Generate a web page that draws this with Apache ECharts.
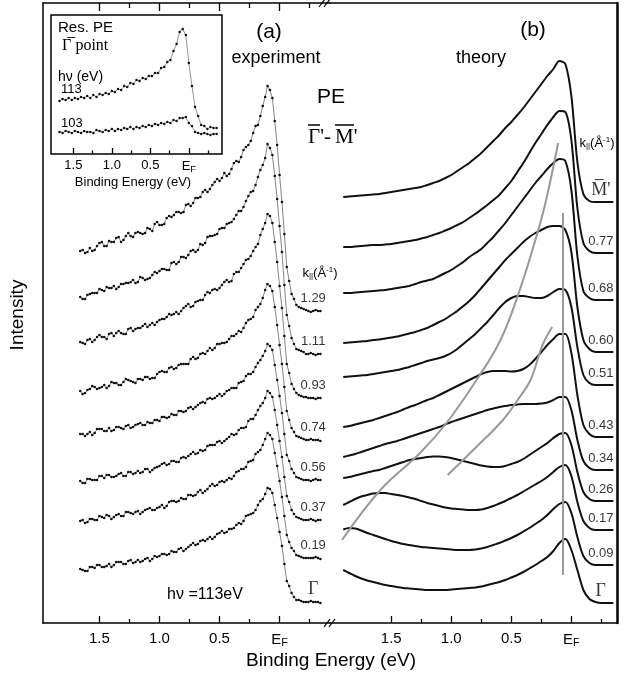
<!DOCTYPE html>
<html>
<head>
<meta charset="utf-8">
<script src="https://cdn.jsdelivr.net/npm/echarts@6/dist/echarts.min.js"></script>
<style>
html, body { margin: 0; padding: 0; background: #fff; }
#chart { width: 630px; height: 677px; }
</style>
</head>
<body>
<div id="chart"></div>
<script>
// binding energy sampling (eV)
const expEnergy = [1.66, 1.64, 1.62, 1.60, 1.58, 1.56, 1.54, 1.52, 1.50, 1.48, 1.46, 1.44, 1.42, 1.40, 1.38, 1.36, 1.34, 1.32, 1.30, 1.28, 1.26, 1.24, 1.22, 1.20, 1.18, 1.16, 1.14, 1.12, 1.10, 1.08, 1.06, 1.04, 1.02, 1.00, 0.98, 0.96, 0.94, 0.92, 0.90, 0.88, 0.86, 0.84, 0.82, 0.80, 0.78, 0.76, 0.74, 0.72, 0.70, 0.68, 0.66, 0.64, 0.62, 0.60, 0.58, 0.56, 0.54, 0.52, 0.50, 0.48, 0.46, 0.44, 0.42, 0.40, 0.38, 0.36, 0.34, 0.32, 0.30, 0.28, 0.26, 0.24, 0.22, 0.20, 0.18, 0.16, 0.14, 0.12, 0.10, 0.08, 0.06, 0.04, 0.02, 0.00, -0.02, -0.04, -0.06, -0.08, -0.10, -0.12, -0.14, -0.16, -0.18, -0.20, -0.22, -0.24, -0.26, -0.28, -0.30, -0.32, -0.34];
const theoryEnergy = [1.90, 1.85, 1.80, 1.75, 1.70, 1.65, 1.60, 1.55, 1.50, 1.45, 1.40, 1.35, 1.30, 1.25, 1.20, 1.15, 1.10, 1.05, 1.00, 0.95, 0.90, 0.85, 0.80, 0.75, 0.70, 0.65, 0.60, 0.55, 0.50, 0.45, 0.40, 0.35, 0.30, 0.25, 0.20, 0.15, 0.10, 0.05, 0.00, -0.05, -0.10, -0.15, -0.20, -0.25, -0.30, -0.35];
const insetEnergy = [1.68, 1.64, 1.60, 1.56, 1.52, 1.48, 1.44, 1.40, 1.36, 1.32, 1.28, 1.24, 1.20, 1.16, 1.12, 1.08, 1.04, 1.00, 0.96, 0.92, 0.88, 0.84, 0.80, 0.76, 0.72, 0.68, 0.64, 0.60, 0.56, 0.52, 0.48, 0.44, 0.40, 0.36, 0.32, 0.28, 0.24, 0.20, 0.16, 0.12, 0.08, 0.04, 0.00, -0.04, -0.08, -0.12, -0.16, -0.20, -0.24, -0.28, -0.32, -0.36];

// tick labels
const majorTicks = [0, 0.5, 1.0, 1.5];
const minorTicks = [-0.25, 0.25, 0.75, 1.25];

// (a) experiment: k labels, waterfall offsets, spectra (top to bottom)
const expLabels = ['1.29', '1.11', '0.93', '0.74', '0.56', '0.37', '0.19', 'Γ'];
const expOffsets = [312, 269, 225, 183, 143, 103, 65, 21];
const exp129 = [60, 61, 58, 59, 63, 60, 61, 65, 68, 69, 65, 65, 70, 69, 69, 73, 74, 69, 71, 75, 78, 75, 74, 78, 79, 78, 77, 78, 83, 82, 80, 87, 89, 86, 86, 87, 93, 95, 94, 96, 99, 99, 98, 99, 106, 107, 105, 108, 113, 113, 114, 119, 121, 119, 122, 126, 129, 132, 130, 133, 138, 135, 137, 142, 148, 150, 149, 154, 161, 164, 166, 170, 178, 185, 186, 195, 205, 214, 225, 221, 213, 190, 166, 136, 109, 77, 44, 30, 17, 12, 6, 4, 3, 2, 1, 0, -1, 0, 1, 0, 0];
const exp111 = [57, 55, 55, 59, 60, 61, 61, 61, 65, 64, 63, 67, 66, 66, 68, 65, 67, 70, 70, 71, 71, 72, 74, 71, 72, 77, 76, 74, 75, 76, 79, 82, 81, 83, 85, 85, 84, 84, 91, 92, 90, 92, 97, 97, 96, 99, 103, 104, 102, 104, 110, 109, 111, 117, 118, 118, 119, 120, 125, 126, 126, 130, 131, 132, 135, 139, 143, 143, 147, 153, 158, 162, 163, 169, 177, 184, 189, 196, 210, 206, 199, 178, 155, 128, 102, 69, 39, 28, 16, 10, 5, 4, 3, 2, 0, 0, 1, 0, -1, 0, 0];
const exp093 = [56, 55, 54, 58, 59, 56, 58, 61, 63, 61, 61, 59, 64, 65, 62, 65, 67, 65, 64, 64, 69, 70, 67, 69, 70, 70, 72, 74, 71, 73, 75, 73, 76, 78, 79, 79, 81, 84, 83, 84, 86, 84, 87, 90, 92, 94, 91, 92, 96, 97, 98, 98, 103, 106, 105, 108, 109, 108, 110, 113, 116, 118, 116, 117, 124, 126, 126, 130, 134, 138, 139, 142, 147, 151, 154, 163, 169, 175, 184, 182, 175, 156, 136, 112, 90, 62, 34, 25, 14, 9, 5, 3, 2, 1, 1, 0, 0, 0, -1, 0, 0];
const exp074 = [49, 46, 47, 50, 51, 54, 53, 51, 52, 53, 55, 52, 54, 58, 57, 57, 55, 55, 58, 61, 60, 59, 58, 57, 61, 61, 60, 63, 63, 61, 62, 62, 66, 68, 69, 68, 68, 72, 73, 71, 72, 75, 76, 76, 76, 76, 81, 83, 81, 82, 86, 87, 86, 89, 92, 90, 92, 96, 96, 97, 97, 98, 101, 104, 104, 106, 109, 108, 112, 117, 120, 121, 123, 130, 133, 136, 142, 150, 156, 154, 149, 133, 115, 95, 76, 53, 29, 20, 12, 8, 4, 3, 2, 1, 0, 0, 1, 0, 0, 0, -1];
const exp056 = [46, 46, 44, 46, 48, 45, 47, 51, 51, 51, 49, 49, 52, 49, 50, 53, 53, 52, 51, 54, 55, 52, 53, 55, 56, 57, 55, 55, 58, 57, 57, 60, 60, 59, 63, 63, 62, 63, 66, 65, 65, 69, 69, 68, 69, 72, 73, 71, 73, 75, 77, 78, 77, 81, 82, 81, 82, 84, 86, 84, 86, 89, 90, 92, 92, 92, 97, 98, 99, 104, 106, 106, 108, 113, 117, 120, 124, 129, 136, 134, 130, 115, 100, 84, 67, 46, 25, 19, 11, 7, 3, 2, 1, 0, 0, 0, -1, 0, 1, 0, 0];
const exp037 = [39, 37, 37, 41, 41, 40, 40, 40, 44, 44, 42, 45, 45, 43, 43, 44, 46, 47, 44, 44, 48, 48, 46, 47, 49, 47, 48, 51, 51, 48, 50, 52, 53, 54, 56, 57, 55, 56, 59, 59, 58, 58, 62, 63, 62, 64, 66, 68, 66, 67, 70, 69, 70, 74, 75, 75, 75, 78, 79, 77, 79, 81, 83, 86, 85, 86, 90, 92, 92, 93, 99, 101, 101, 105, 110, 114, 117, 122, 129, 127, 123, 110, 95, 79, 63, 43, 24, 18, 10, 6, 3, 2, 1, 0, 0, 0, 1, 0, -1, 0, 0];
const exp019 = [37, 38, 35, 36, 39, 39, 38, 38, 42, 41, 40, 43, 42, 39, 41, 43, 44, 42, 42, 46, 46, 45, 44, 46, 47, 44, 46, 48, 49, 50, 48, 48, 50, 51, 53, 50, 52, 56, 57, 57, 56, 57, 60, 59, 59, 63, 63, 62, 63, 66, 68, 65, 67, 69, 72, 74, 72, 73, 76, 77, 76, 78, 80, 79, 82, 86, 87, 89, 89, 91, 96, 97, 98, 104, 106, 108, 113, 119, 125, 123, 119, 105, 92, 77, 61, 42, 23, 16, 10, 7, 3, 2, 1, 0, 0, 0, 0, 0, 1, 0, -1];
const expGamma = [33, 32, 31, 31, 35, 35, 34, 37, 37, 35, 35, 36, 38, 35, 37, 40, 40, 40, 38, 38, 41, 42, 39, 40, 42, 40, 41, 43, 44, 41, 43, 46, 45, 46, 48, 48, 47, 48, 51, 50, 50, 53, 54, 51, 53, 55, 57, 59, 57, 58, 61, 62, 61, 63, 65, 63, 65, 68, 69, 71, 69, 70, 73, 73, 74, 77, 79, 78, 81, 86, 87, 88, 89, 92, 97, 101, 103, 108, 114, 113, 109, 97, 84, 70, 56, 38, 21, 16, 9, 5, 2, 2, 1, 0, 0, 0, 1, 0, 0, 0, -1];
const expSpectra = [exp129, exp111, exp093, exp074, exp056, exp037, exp019, expGamma];

// (b) theory
const theoryLabels = ["M\u0305'", '0.77', '0.68', '0.60', '0.51', '0.43', '0.34', '0.26', '0.17', '0.09', 'Γ'];
const theoryOffsets = [421, 370, 323, 271, 238, 186, 153, 122, 93, 58, 20];
const thM = [5, 5.5, 6, 6.5, 7, 7.5, 8, 9, 10, 11, 12, 13, 14, 15, 17, 19, 21, 24, 27, 31, 35, 39, 44, 49, 55, 61, 67, 74, 80, 87, 94, 102, 110, 118, 126, 133, 141, 138, 106, 40, 8, 1, 0, 0, 0, 0];
const th077 = [6, 6, 6.5, 7, 7.5, 8, 8, 8.5, 9, 10, 11, 12, 13, 14.5, 16, 18, 20, 22.5, 25, 28, 31, 35, 39, 43.5, 48, 53, 58, 65, 72, 81, 90, 100, 110, 119, 128, 136, 142, 141, 113, 45, 10, 2, 0, 0, 0, 0];
const th068 = [7, 7, 7.5, 8, 8.5, 9, 9.5, 10, 11, 12, 13, 14, 16, 18, 19.5, 21, 24, 27, 30, 34, 38, 43, 47, 51, 57, 63, 70, 77, 85, 93, 101, 109, 117, 124, 131, 137, 141, 139, 110, 44, 9, 2, 0, 0, 0, 0];
const th060 = [9, 9.5, 10, 10.5, 11, 12, 12.5, 13.5, 14.5, 15.5, 17, 18.5, 20, 22, 24, 27, 30, 33, 37, 41, 46, 51, 57, 64, 71, 78, 85, 92, 98, 104, 110, 115, 119, 122, 125, 126, 126, 122, 100, 45, 12, 3, 0, 0, 0, 0];
const th051 = [8, 8.5, 9, 9.5, 10, 11, 12, 13, 14, 15, 16.5, 18, 20, 22, 24, 25.5, 27, 29, 32, 36, 41, 46, 51, 57, 63, 70, 77, 83, 87, 89, 89, 88, 87, 87, 89, 93, 96, 95, 78, 38, 10, 2, 0, 0, 0, 0];
const th043 = [10, 11, 12.5, 14, 15.5, 17, 19, 21, 23, 25, 27.5, 30, 32, 34.5, 37, 39, 42, 45, 48, 51, 54, 57, 60, 63, 65, 66, 66, 66, 65.5, 66, 68, 72, 78, 85, 92, 98, 103, 103, 84, 42, 12, 3, 0, 0, 0, 0];
const th034 = [13, 14.5, 16, 18, 20, 22, 24, 26, 27.5, 29, 31, 33, 35, 37, 39, 41, 43, 45.5, 48, 50, 52, 54, 56, 58, 60, 61.5, 63, 64, 65, 65.5, 66, 66, 66, 66.5, 67.5, 70, 73, 73, 60, 30, 9, 2, 0, 0, 0, 0];
const th026 = [23, 24, 25.5, 27, 28.5, 30, 31, 33, 35, 37, 39, 41, 42, 43, 44, 44.5, 44.5, 44, 43, 41.5, 40, 38.5, 37, 35.5, 34.5, 34, 34, 35, 37, 39, 42, 46, 50, 54, 58, 63, 67, 68, 56, 29, 9, 2, 0, 0, 0, 0];
const th017 = [25, 28, 31, 33.5, 35, 36.5, 37, 37, 36, 35, 34, 32.5, 31, 29, 27, 25.5, 24, 22.5, 21.5, 21, 20.5, 20, 20, 20.5, 22, 24, 26.5, 29, 32, 35, 38.5, 42, 45.5, 49, 53, 58, 63, 65, 54, 28, 9, 2, 0, 0, 0, 0];
const th009 = [35.5, 37, 36.5, 34.5, 32, 30, 28, 26, 24, 22.5, 21, 20, 19, 18, 17.5, 17, 16.5, 16, 15.5, 15, 15, 15, 15.5, 16.5, 18, 20, 22, 24.5, 27, 30, 33.5, 37, 41, 45, 50, 56, 61, 63, 52, 28, 9, 2, 0, 0, 0, 0];
const thGamma = [33, 30, 27, 24.5, 22.5, 21, 19.5, 18, 17, 16, 15, 14.5, 14, 13.5, 13, 13, 13, 13, 13.5, 14, 14.5, 15, 15.5, 16.5, 18, 19.5, 21, 23, 25.5, 28, 31, 34.5, 38, 42, 46, 52, 60, 64, 53, 33, 13, 4, 1, 0, 0, 0];
const theorySpectra = [thM, th077, th068, th060, th051, th043, th034, th026, th017, th009, thGamma];

// gray guide lines in (b): [energy, intensity]
const guideVertical = [[0.07, 48], [0.07, 410]];
const guideLong = [[1.91, 83], [1.59, 133], [1.26, 170], [1.04, 200], [0.79, 243], [0.59, 283], [0.43, 333], [0.30, 383], [0.22, 418], [0.11, 480]];
const guideShort = [[1.03, 148], [0.80, 175], [0.57, 203], [0.43, 226], [0.34, 243], [0.24, 278], [0.16, 296]];

// inset: resonant PE at Gamma point
const insetLabels = ['113', '103'];
const inset113 = [53, 55, 54, 56, 54, 56, 55, 57, 56, 58, 56, 59, 57, 60, 59, 61, 60, 63, 62, 65, 64, 68, 67, 71, 70, 74, 73, 76, 75, 78, 78, 81, 81, 86, 87, 92, 94, 103, 110, 122, 125, 119, 91, 68, 47, 38, 29, 28, 25, 27, 26, 26];
const inset103 = [22, 21, 23, 22, 21, 23, 22, 21, 23, 22, 22, 21, 24, 23, 22, 24, 23, 25, 23, 25, 24, 26, 25, 27, 25, 27, 26, 28, 27, 29, 28, 30, 29, 31, 30, 32, 31, 34, 33, 36, 36, 37, 31, 28, 22, 21, 20, 21, 20, 19, 20, 20];

const sans = 'Liberation Sans, Arial, sans-serif';
const serif = 'Liberation Serif, Times New Roman, serif';

const chart = echarts.init(document.getElementById('chart'), null, { renderer: 'canvas' });

function energyAxis(gridIndex, min, max, extra) {
  return Object.assign({
    gridIndex,
    type: 'value',
    min,
    max,
    inverse: true,
    splitLine: { show: false },
    axisLine: { show: false, onZero: false },
    axisTick: { show: false },
    axisLabel: { show: false },
  }, extra);
}

function line(width) {
  return { show: true, onZero: false, lineStyle: { color: '#000', width } };
}

function ticks(values, length) {
  return { show: true, inside: true, length, customValues: values, lineStyle: { color: '#000', width: 1.3 } };
}

function labels(size, margin) {
  return {
    show: true,
    customValues: majorTicks,
    margin,
    color: '#000',
    fontSize: size,
    fontFamily: sans,
    formatter: (v) => (Math.abs(v) < 1e-9 ? '{e|E}{f|F}' : v.toFixed(1)),
    rich: {
      e: { fontSize: size, fontFamily: sans, color: '#000' },
      f: { fontSize: size * 0.72, fontFamily: sans, color: '#000', padding: [size * 0.45, 0, 0, 0] },
    },
  };
}

const series = [];

expSpectra.forEach((spec, i) => {
  series.push({
    type: 'line',
    xAxisIndex: 0,
    yAxisIndex: 0,
    data: expEnergy.map((e, j) => [e, expOffsets[i] + spec[j]]),
    symbol: 'circle',
    symbolSize: 2.6,
    showAllSymbol: true,
    lineStyle: { color: '#666', width: 0.8 },
    itemStyle: { color: '#111' },
    silent: true,
  });
});

theorySpectra.forEach((spec, i) => {
  series.push({
    type: 'line',
    xAxisIndex: 4,
    yAxisIndex: 1,
    data: theoryEnergy.map((e, j) => [e, theoryOffsets[i] + spec[j]]),
    smooth: 0.3,
    showSymbol: false,
    lineStyle: { color: '#111', width: 2 },
    silent: true,
  });
});

[guideVertical, guideLong, guideShort].forEach((g) => {
  series.push({
    type: 'line',
    xAxisIndex: 4,
    yAxisIndex: 1,
    data: g,
    smooth: 0.4,
    showSymbol: false,
    lineStyle: { color: '#999', width: 2 },
    z: 3,
    silent: true,
  });
});

[inset113, inset103].forEach((spec) => {
  series.push({
    type: 'line',
    xAxisIndex: 7,
    yAxisIndex: 2,
    data: insetEnergy.map((e, j) => [e, spec[j]]),
    symbol: 'circle',
    symbolSize: 2.5,
    showAllSymbol: true,
    lineStyle: { color: '#666', width: 0.7 },
    itemStyle: { color: '#111' },
    z: 6,
    silent: true,
  });
});

function labelSeries(xAxisIndex, yAxisIndex, energy, offsets, names, dy) {
  return {
    type: 'scatter',
    xAxisIndex,
    yAxisIndex,
    symbolSize: 0,
    silent: true,
    data: names.map((n, i) => ({ value: [energy, offsets[i] + dy], name: n })),
    label: {
      show: true,
      position: 'inside',
      color: '#000',
      fontFamily: sans,
      fontSize: 13,
      formatter: (p) => (/^[0-9.]+$/.test(p.name) ? p.name : '{g|' + p.name + '}'),
      rich: { g: { fontFamily: serif, fontSize: 18, color: '#000' } },
    },
  };
}
series.push(labelSeries(0, 0, -0.28, expOffsets, expLabels, 13));
series.push(labelSeries(4, 1, -0.245, theoryOffsets, theoryLabels, 12));

const kRich = {
  k: { fontSize: 13, fontFamily: sans, color: '#000' },
  s: { fontSize: 8, fontFamily: sans, color: '#000', padding: [6, 0, 0, 0] },
  u: { fontSize: 8, fontFamily: sans, color: '#000', padding: [0, 0, 6, 0] },
};
const kText = '{k|k}{s|||}{k|(Å}{u|-1}{k|)}';

function text(x, y, str, size, extra, rotation) {
  return {
    type: 'text',
    x,
    y,
    z: 10,
    rotation: rotation || 0,
    style: Object.assign({
      text: str,
      fontSize: size,
      fontFamily: sans,
      fill: '#000',
      textAlign: 'center',
      textVerticalAlign: 'middle',
    }, extra || {}),
  };
}

function rule(x1, y1, x2, y2, w) {
  return { type: 'line', z: 10, shape: { x1, y1, x2, y2 }, style: { stroke: '#000', lineWidth: w } };
}

function slash(cx, cy) {
  return [rule(cx - 6, cy + 4, cx, cy - 4, 1.2), rule(cx - 1, cy + 4, cx + 5, cy - 4, 1.2)];
}

const graphic = [
  text(18, 315, 'Intensity', 19, {}, Math.PI / 2),
  text(331, 661, 'Binding Energy (eV)', 19),
  text(269, 32, '(a)', 21),
  text(276, 58, 'experiment', 18),
  text(331, 97, 'PE', 21),
  text(308, 137, "Γ'-", 21, { fontFamily: serif, textAlign: 'left' }),
  text(335, 137, "M'", 21, { fontFamily: serif, textAlign: 'left' }),
  rule(308, 125, 320, 125, 1.5),
  rule(335, 125, 354, 125, 1.5),
  text(533, 30, '(b)', 21),
  text(481, 58, 'theory', 18),
  text(320, 273, kText, 13, { rich: kRich }),
  text(597, 143, kText, 13, { rich: kRich }),
  text(205, 595, 'hν =113eV', 16),
  text(58, 28, 'Res. PE', 15, { textAlign: 'left' }),
  text(62, 46, '{g|Γ\u0305} {p|point}', 15, { textAlign: 'left', rich: { g: { fontFamily: serif, fontSize: 16, color: '#000' }, p: { fontFamily: serif, fontSize: 16, color: '#000' } } }),
  text(58, 77, 'hν (eV)', 14, { textAlign: 'left' }),
  text(61, 89, insetLabels[0], 13, { textAlign: 'left' }),
  text(61, 123, insetLabels[1], 13, { textAlign: 'left' }),
  text(133, 182, 'Binding Energy (eV)', 13),
].concat(slash(325, 3), slash(330, 623));

const option = {
  animation: false,
  backgroundColor: '#fff',
  grid: [
    { left: 43, top: 3, width: 287, height: 620, show: false },
    { left: 330, top: 3, width: 287, height: 620, show: false },
    { left: 51, top: 15, width: 171, height: 139, show: true, z: 4, backgroundColor: '#fff', borderColor: '#000', borderWidth: 1.5 },
  ],
  xAxis: [
    energyAxis(0, -0.42, 1.97, { position: 'bottom', axisLine: line(1.5), axisTick: ticks(majorTicks, 7), axisLabel: labels(15, 8) }),
    energyAxis(0, -0.42, 1.97, { position: 'bottom', axisTick: ticks(minorTicks, 4) }),
    energyAxis(0, -0.42, 1.97, { position: 'top', axisLine: line(1.5), axisTick: ticks(majorTicks, 8) }),
    energyAxis(0, -0.42, 1.97, { position: 'top', axisTick: ticks(minorTicks, 5) }),
    energyAxis(1, -0.38, 2.01, { position: 'bottom', axisLine: line(1.5), axisTick: ticks(majorTicks, 7), axisLabel: labels(15, 8) }),
    energyAxis(1, -0.38, 2.01, { position: 'bottom', axisTick: ticks(minorTicks, 4) }),
    energyAxis(1, -0.38, 2.01, { position: 'top', axisLine: line(1.5) }),
    energyAxis(2, -0.43, 1.79, { position: 'bottom', z: 5, axisTick: ticks(majorTicks, 6), axisLabel: labels(13, 5) }),
    energyAxis(2, -0.43, 1.79, { position: 'bottom', z: 5, axisTick: ticks(minorTicks, 3.5) }),
  ],
  yAxis: [
    { gridIndex: 0, type: 'value', min: 0, max: 620, position: 'left', axisLine: line(1.5), axisTick: { show: false }, axisLabel: { show: false }, splitLine: { show: false } },
    { gridIndex: 1, type: 'value', min: 0, max: 620, position: 'right', axisLine: line(2.5), axisTick: { show: false }, axisLabel: { show: false }, splitLine: { show: false } },
    { gridIndex: 2, type: 'value', min: 0, max: 139, show: false },
  ],
  series,
  graphic,
};

chart.setOption(option);
</script>
</body>
</html>
